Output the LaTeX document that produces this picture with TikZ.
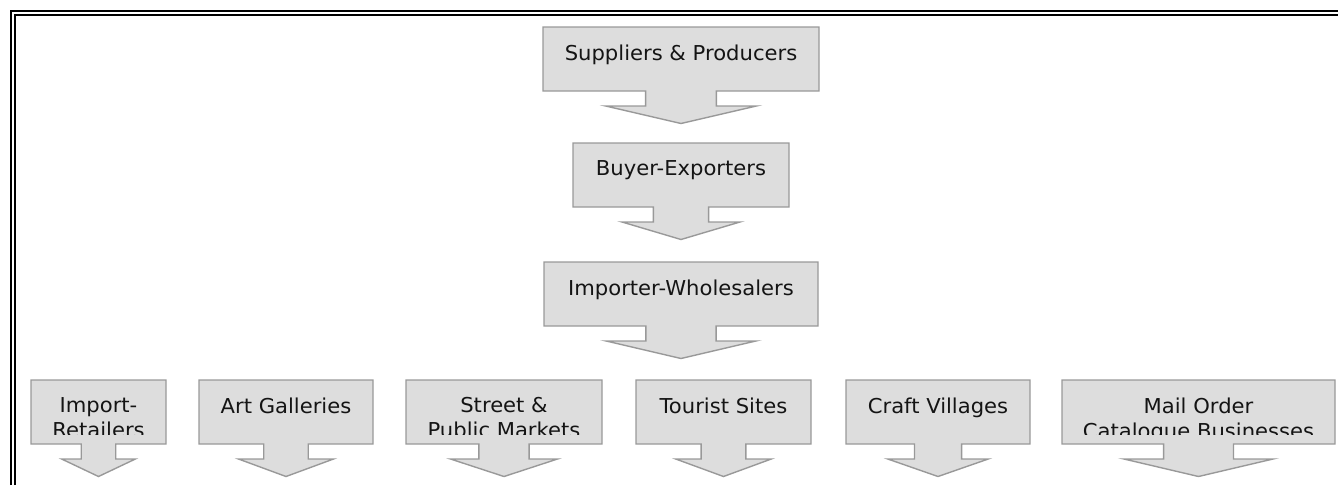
\documentclass[tikz,border=0pt]{standalone}
\usepackage{fontspec}
\setmainfont{DejaVu Sans}[FakeStretch=1.03]
\definecolor{boxfill}{HTML}{DDDDDD}
\definecolor{boxline}{HTML}{999999}
\definecolor{labeltext}{HTML}{141414}

% \flowbox{name}{left}{right}{top}{text}: a box with a down-pointing arrow below it
\newcommand\flowbox[5]{%
  \pgfmathsetmacro\fbL{#2}\pgfmathsetmacro\fbR{#3}\pgfmathsetmacro\fbT{#4}%
  \pgfmathsetmacro\fbB{\fbT+64}\pgfmathsetmacro\fbC{(\fbL+\fbR)/2}%
  \pgfmathsetmacro\fbS{0.128*(\fbR-\fbL)}\pgfmathsetmacro\fbH{0.273*(\fbR-\fbL)}%
  \pgfmathsetmacro\fbY{\fbB+15}\pgfmathsetmacro\fbP{\fbY+17.5}%
  \path[arrowbox] (\fbL,\fbT) -- (\fbR,\fbT) -- (\fbR,\fbB) -- (\fbC+\fbS,\fbB)
    -- (\fbC+\fbS,\fbY) -- (\fbC+\fbH,\fbY) -- (\fbC,\fbP) -- (\fbC-\fbH,\fbY)
    -- (\fbC-\fbS,\fbY) -- (\fbC-\fbS,\fbB) -- (\fbL,\fbB) -- cycle;
  \begin{scope}
    \clip (\fbL,\fbT) rectangle (\fbR,\fbB-10);
    \node[boxlabel] (#1) at (\fbC,\fbT+17.5) {#5};
  \end{scope}}

\begin{document}
\begin{tikzpicture}[x=1pt,y=-1pt,
  arrowbox/.style={fill=boxfill,draw=boxline,line width=1.4pt,line join=miter},
  boxlabel/.style={inner sep=0pt,align=center,text=labeltext,
    font=\fontsize{20.5}{25}\selectfont,anchor=north}]
\useasboundingbox (0,0) rectangle (1338,485);

% double rule along the top and left edges
\draw[line width=2.5pt,line join=miter] (11,485) -- (11,11) -- (1338,11);
\draw[line width=2pt,line join=miter] (15,485) -- (15,15) -- (1338,15);

% main chain
\flowbox{suppliers}{543}{819}{27}{Suppliers \& Producers}
\flowbox{buyers}{573}{789}{143}{Buyer-Exporters}
\flowbox{importers}{544}{818}{262}{Importer-Wholesalers}

% retail channels
\flowbox{retailers}{31}{166}{380}{Import-\\Retailers}
\flowbox{galleries}{199}{373}{380}{Art Galleries}
\flowbox{markets}{406}{602}{380}{Street \&\\Public Markets}
\flowbox{tourist}{636}{811}{380}{Tourist Sites}
\flowbox{villages}{846}{1030}{380}{Craft Villages}
\flowbox{mailorder}{1062}{1335}{380}{Mail Order\\Catalogue Businesses}
\end{tikzpicture}
\end{document}
